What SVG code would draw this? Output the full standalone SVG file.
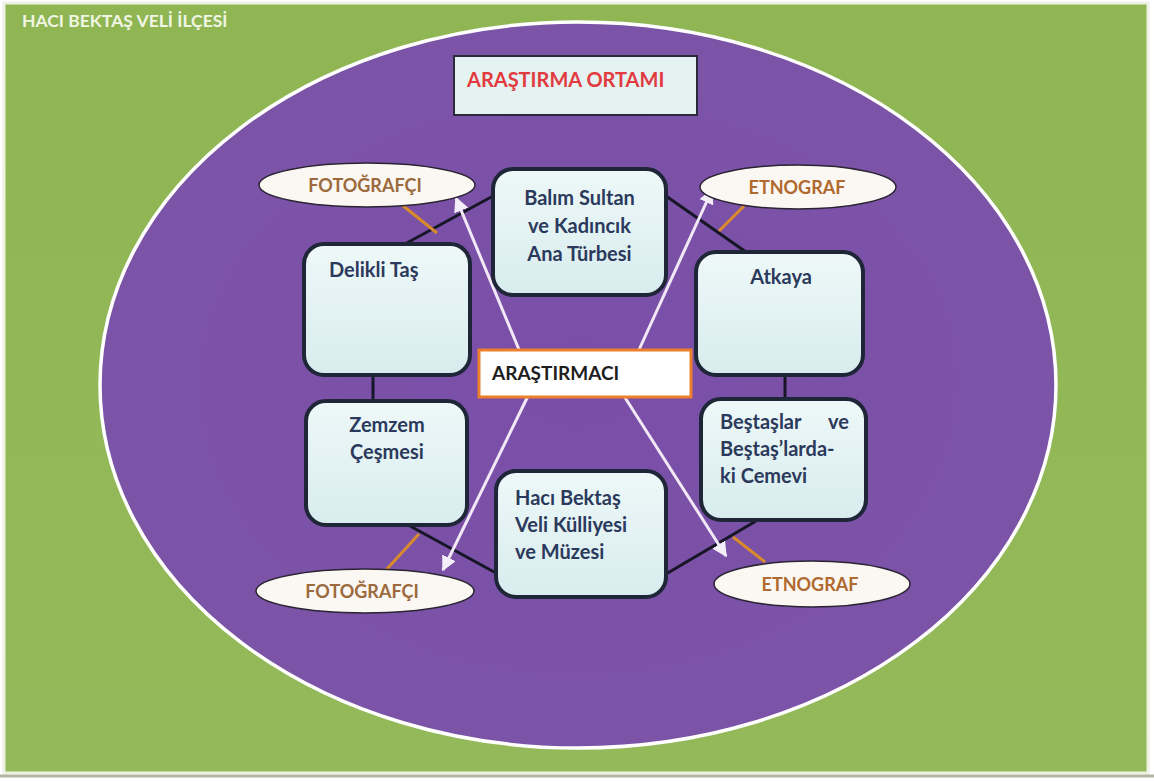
<svg xmlns="http://www.w3.org/2000/svg" width="1154" height="781" viewBox="0 0 1154 781">
<defs>
<linearGradient id="bg" x1="0" y1="0" x2="0" y2="1">
<stop offset="0" stop-color="#8fb653"/>
<stop offset="1" stop-color="#94b95a"/>
</linearGradient>
<radialGradient id="pur" cx="0.5" cy="0.5" r="0.5">
<stop offset="0" stop-color="#7a4ea8"/>
<stop offset="1" stop-color="#7c54a7"/>
</radialGradient>
<linearGradient id="box" x1="0" y1="0" x2="0" y2="1">
<stop offset="0" stop-color="#eef8f8"/>
<stop offset="1" stop-color="#d8ecee"/>
</linearGradient>
<marker id="ah" viewBox="0 0 10 10" refX="9" refY="5" markerWidth="5" markerHeight="5" orient="auto" markerUnits="strokeWidth">
<path d="M0,0 L10,5 L0,10 z" fill="#f4eef8"/>
</marker>
</defs>
<style>
.node{fill:url(#box);stroke:#1e2638;stroke-width:4}
.nt{font-family:Lato,"Open Sans",sans-serif;font-weight:bold;font-size:20px;fill:#2b3a5c}
.oval{fill:#fbf8f3;stroke:#2a2433;stroke-width:1.5}
.ot{font-family:Lato,"Open Sans",sans-serif;font-weight:bold;font-size:18px}
.dark{stroke:#161626;stroke-width:3;fill:none}
.org{stroke:#d98a2a;stroke-width:3;fill:none}
.arr{stroke:#f2e8f6;stroke-width:3;fill:none;marker-end:url(#ah)}
</style>
<rect x="0" y="0" width="1154" height="781" fill="#ffffff"/>
<rect x="4" y="3" width="1144" height="770" fill="url(#bg)" stroke="#eef2e2" stroke-width="3"/>
<line x1="0" y1="776" x2="1154" y2="776" stroke="#b4b6a4" stroke-width="3"/>
<text x="22" y="27" font-family="Lato,'Open Sans',sans-serif" font-weight="bold" font-size="17.5" fill="#f1f5e3">HACI BEKTAŞ VELİ İLÇESİ</text>
<ellipse cx="578" cy="385" rx="478" ry="363" fill="url(#pur)" stroke="#ffffff" stroke-width="3.5"/>

<g id="ortam">
<rect x="454" y="56" width="243" height="59" fill="#e4f2f2" stroke="#2a2a3a" stroke-width="2"/>
<text x="467" y="87" font-family="Lato,'Open Sans',sans-serif" font-weight="bold" font-size="20" fill="#e23b3f">ARAŞTIRMA ORTAMI</text>
</g>

<g id="connectors">
<path class="dark" d="M493,196 L405,244"/>
<path class="dark" d="M666,196 L746,252"/>
<path class="dark" d="M373,375 L373,401"/>
<path class="dark" d="M785,375 L785,399"/>
<path class="dark" d="M410,526 L496,573"/>
<path class="dark" d="M756,521 L666,574"/>
<path class="org" d="M402,205 L437,233"/>
<path class="org" d="M744,206 L719,231"/>
<path class="org" d="M419,534 L386,570"/>
<path class="org" d="M733,537 L765,562"/>
<path class="arr" d="M520,352 L456,198"/>
<path class="arr" d="M638,352 L712,190"/>
<path class="arr" d="M528,396 L443,570"/>
<path class="arr" d="M624,396 L726,556"/>
</g>

<g id="balim">
<rect class="node" x="493" y="169" width="173" height="126" rx="20"/>
<text class="nt" x="579.5" y="205" text-anchor="middle">Balım Sultan</text>
<text class="nt" x="579.5" y="233" text-anchor="middle">ve Kadıncık</text>
<text class="nt" x="579.5" y="261" text-anchor="middle">Ana Türbesi</text>
</g>
<g id="delikli">
<rect class="node" x="304" y="244" width="166" height="131" rx="20"/>
<text class="nt" x="329" y="277">Delikli Taş</text>
</g>
<g id="atkaya">
<rect class="node" x="696" y="252" width="167" height="123" rx="20"/>
<text class="nt" x="781" y="284" text-anchor="middle">Atkaya</text>
</g>
<g id="zemzem">
<rect class="node" x="306" y="401" width="161" height="124" rx="20"/>
<text class="nt" x="387" y="432" text-anchor="middle">Zemzem</text>
<text class="nt" x="387" y="459" text-anchor="middle">Çeşmesi</text>
</g>
<g id="bestaslar">
<rect class="node" x="701" y="399" width="165" height="121" rx="20"/>
<text class="nt" x="720" y="429">Beştaşlar</text>
<text class="nt" x="849" y="429" text-anchor="end">ve</text>
<text class="nt" x="720" y="456">Beştaş’larda-</text>
<text class="nt" x="720" y="483">ki Cemevi</text>
</g>
<g id="haci">
<rect class="node" x="496" y="471" width="170" height="126" rx="20"/>
<text class="nt" x="515" y="505">Hacı Bektaş</text>
<text class="nt" x="515" y="532">Veli Külliyesi</text>
<text class="nt" x="515" y="559">ve Müzesi</text>
</g>
<g id="arastirmaci">
<rect x="479" y="350" width="212" height="47" fill="#ffffff" stroke="#ec7f2c" stroke-width="3"/>
<text x="492" y="380" font-family="Lato,'Open Sans',sans-serif" font-weight="bold" font-size="19" fill="#1e1e1e">ARAŞTIRMACI</text>
</g>
<g id="foto1">
<ellipse class="oval" cx="367" cy="185" rx="108" ry="22"/>
<text class="ot" x="365" y="192" text-anchor="middle" fill="#9c6a3c">FOTOĞRAFÇI</text>
</g>
<g id="etno1">
<ellipse class="oval" cx="798" cy="187" rx="98" ry="22"/>
<text class="ot" x="797" y="194" text-anchor="middle" fill="#b0692e">ETNOGRAF</text>
</g>
<g id="foto2">
<ellipse class="oval" cx="365" cy="591" rx="109" ry="22"/>
<text class="ot" x="362" y="598" text-anchor="middle" fill="#9c6a3c">FOTOĞRAFÇI</text>
</g>
<g id="etno2">
<ellipse class="oval" cx="812" cy="584" rx="98" ry="23"/>
<text class="ot" x="810" y="591" text-anchor="middle" fill="#b0692e">ETNOGRAF</text>
</g>
</svg>
